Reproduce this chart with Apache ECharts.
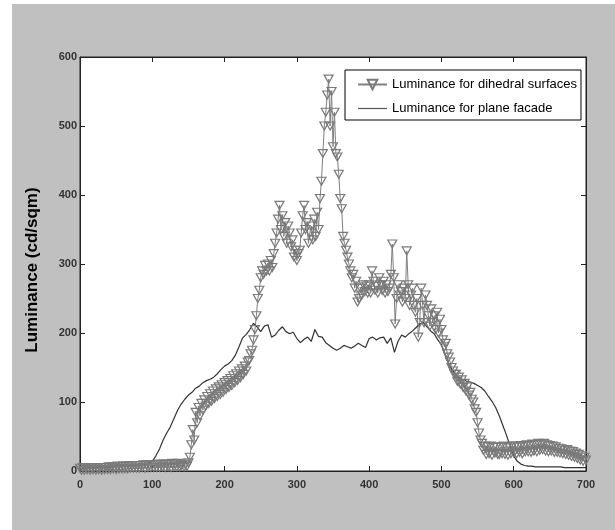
<!DOCTYPE html>
<html>
<head>
<meta charset="utf-8">
<script src="https://cdn.jsdelivr.net/npm/echarts@6/dist/echarts.min.js"></script>
<style>
html,body{margin:0;padding:0;background:#fff;}
#bg{position:absolute;left:12px;top:4px;width:603px;height:526px;background:#c0c0c0;}
#chart{position:absolute;left:0;top:0;width:615px;height:530px;}
</style>
</head>
<body>
<div id="bg"></div>
<div id="chart"></div>
<script>
// x sampling of the two curves
const dihedralStart = 0, dihedralStep = 2;
const planeStart = 0, planeStep = 5;

// Luminance for dihedral surfaces (x = 0, 2, 4, ... 700)
const dihedral = [
  4,1,5,1,4,2,5,1,4,2,
  5,1,4,2,5,1,5,2,5,2,
  6,2,6,3,6,2,7,3,6,3,
  7,3,7,3,8,4,7,4,8,4,
  8,4,8,5,9,4,9,5,8,5,
  9,5,9,5,10,5,9,6,10,5,
  10,6,10,5,11,6,10,6,11,6,
  8,10,6,9,7,12,20,38,60,45,
  85,70,92,80,98,88,103,94,108,98,
  112,101,116,105,119,108,122,111,125,114,
  128,118,131,121,134,124,138,128,141,131,
  145,135,148,140,152,145,158,160,170,175,
  190,205,225,250,262,280,290,285,298,290,
  300,290,305,295,315,330,345,365,385,350,
  370,340,360,330,355,345,325,335,310,320,
  305,315,320,345,370,385,350,360,330,345,
  355,335,365,340,375,350,395,420,460,500,
  520,545,568,500,550,470,520,460,455,430,
  395,380,340,330,320,310,300,290,280,285,
  265,275,245,250,265,255,270,260,268,258,
  270,258,290,275,262,268,258,280,270,262,
  275,258,270,260,265,285,329,280,213,250,
  270,255,260,245,265,250,319,270,240,255,
  265,240,230,250,194,215,265,240,215,255,
  240,225,210,235,215,225,205,230,200,220,
  205,190,180,185,170,165,158,150,145,140,
  140,130,136,126,132,121,127,116,122,110,
  114,104,100,90,85,70,55,45,40,30,
  36,24,35,25,36,23,34,26,35,24,
  24,35,25,36,24,34,23,35,25,36,
  26,36,25,35,27,37,25,36,28,38,
  28,37,27,39,29,38,28,40,30,39,
  31,40,29,38,28,37,29,36,27,35,
  27,33,26,32,25,30,24,31,23,29,
  21,28,20,26,18,24,16,22,14,20,
  16
];

// Luminance for plane facade (x = 0, 5, 10, ... 700)
const plane = [
  4,4,4,5,5,5,6,6,6,7,
  7,7,8,8,8,9,9,10,10,12,
  14,22,32,45,55,64,76,88,97,104,
  110,114,120,123,128,131,133,136,141,147,
  152,155,160,168,180,193,198,205,214,209,
  202,210,212,194,197,204,209,202,199,201,
  192,186,191,194,188,205,195,194,186,182,
  178,175,178,182,180,178,181,185,182,179,
  192,194,190,193,194,185,193,172,188,197,
  194,199,203,208,213,215,209,203,199,190,
  183,168,155,146,140,135,132,130,129,127,
  124,121,116,108,101,92,80,66,52,36,
  22,14,10,8,7,7,6,6,6,6,
  6,6,6,6,5,5,5,5,5,5,
  5
];

const xTicks = {min: 0, max: 700, interval: 100};
const yTicks = {min: 0, max: 600, interval: 100};
const seriesNames = ['Luminance for dihedral surfaces', 'Luminance for plane facade'];
const yName = 'Luminance (cd/sqm)';

const dihedralData = dihedral.map((v, i) => [dihedralStart + i * dihedralStep, v]);
const planeData = plane.map((v, i) => [planeStart + i * planeStep, v]);

const chart = echarts.init(document.getElementById('chart'));
const axisLineStyle = {show: true, onZero: false, lineStyle: {color: '#222', width: 1}};
const tickStyle = {show: true, inside: true, length: 5, lineStyle: {color: '#222', width: 1}};
const labelStyle = {fontFamily: 'Liberation Sans, Arial, sans-serif', fontWeight: 'bold', fontSize: 11, color: '#333'};

chart.setOption({
  animation: false,
  grid: {left: 80, top: 57, right: 29, bottom: 59, show: true, backgroundColor: '#fff', borderColor: '#222', borderWidth: 1},
  legend: {
    orient: 'vertical', left: 345, top: 70,
    padding: [8, 4, 5, 12],
    itemWidth: 29, itemHeight: 12, itemGap: 11,
    backgroundColor: '#fff', borderColor: '#000', borderWidth: 1,
    textStyle: {fontFamily: 'Liberation Sans, Arial, sans-serif', fontSize: 13, color: '#000'},
    data: [
      {name: seriesNames[0]},
      {name: seriesNames[1], icon: 'path://M0,0L29,0L29,1.2L0,1.2Z', itemStyle: {color: '#555'}}
    ]
  },
  xAxis: [
    Object.assign({type: 'value', position: 'bottom', axisLine: axisLineStyle, axisTick: tickStyle,
      axisLabel: Object.assign({margin: 8}, labelStyle), splitLine: {show: false}}, xTicks),
    Object.assign({type: 'value', position: 'top', axisLine: axisLineStyle, axisTick: tickStyle,
      axisLabel: {show: false}, splitLine: {show: false}}, xTicks)
  ],
  yAxis: [
    Object.assign({type: 'value', position: 'left', axisLine: axisLineStyle, axisTick: tickStyle,
      axisLabel: Object.assign({margin: 3}, labelStyle), splitLine: {show: false},
      name: yName, nameLocation: 'middle', nameGap: 39,
      nameTextStyle: {fontFamily: 'Liberation Sans, Arial, sans-serif', fontWeight: 'bold', fontSize: 17, color: '#000', padding: [0, 12, 0, 0]}}, yTicks),
    Object.assign({type: 'value', position: 'right', axisLine: axisLineStyle, axisTick: tickStyle,
      axisLabel: {show: false}, splitLine: {show: false}}, yTicks)
  ],
  series: [
    {
      name: seriesNames[0], type: 'line', data: dihedralData,
      symbol: 'triangle', symbolRotate: 180, symbolSize: [9, 8], showAllSymbol: true,
      lineStyle: {color: '#7f7f7f', width: 1},
      itemStyle: {color: 'rgba(255,255,255,0)', borderColor: '#7a7a7a', borderWidth: 1.2},
      emphasis: {disabled: true}
    },
    {
      name: seriesNames[1], type: 'line', data: planeData,
      symbol: 'none', showSymbol: false,
      lineStyle: {color: '#333', width: 1.2},
      itemStyle: {color: '#333'},
      emphasis: {disabled: true}
    }
  ]
});
</script>
</body>
</html>
